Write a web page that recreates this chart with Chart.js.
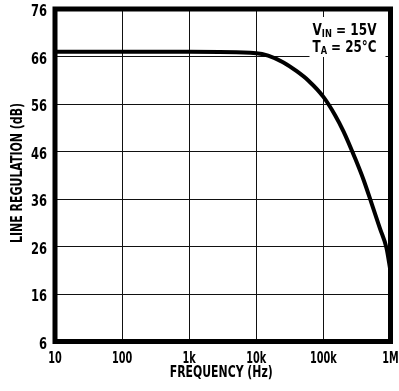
<!DOCTYPE html>
<html>
<head>
<meta charset="utf-8">
<script src="https://cdn.jsdelivr.net/npm/chart.js@4/dist/chart.umd.min.js"></script>
<style>
  html, body { margin: 0; padding: 0; background: #fff; }
  #wrap { width: 399px; height: 391px; position: relative; }
</style>
</head>
<body>
<div id="wrap"><canvas id="lineRegChart"></canvas></div>
<script>
// ---- data ----
const freqHz = [10, 100, 1000, 10000, 15000, 25000, 40000, 60000, 100000,
                150000, 200000, 300000, 400000, 530000, 700000, 870000, 1000000];
const lineRegDb = [67, 67, 67, 66.7, 66.2, 64.8, 62.9, 60.9, 57.5,
                   53.6, 50.2, 44.4, 39.9, 34.8, 29.7, 25.7, 20.8];

const xTickValues = [10, 100, 1000, 10000, 100000, 1000000];
const xTickLabels = ['10', '100', '1k', '10k', '100k', '1M'];
const yTickValues = [6, 16, 26, 36, 46, 56, 66, 76];
const xTitle = 'FREQUENCY (Hz)';
const yTitle = 'LINE REGULATION (dB)';

const FONT = "'Liberation Sans Narrow', 'DejaVu Sans Condensed', 'Arial Narrow', sans-serif";

// the original uses a condensed bold face: draw text squeezed sideways
function squeezed(ctx, text, x, y, font, k, align, rot) {
    ctx.save();
    ctx.translate(x, y);
    if (rot) ctx.rotate(rot);
    ctx.scale(k, 1);
    ctx.font = font;
    ctx.textAlign = align;
    ctx.textBaseline = 'alphabetic';
    ctx.fillText(text, 0, 0);
    ctx.restore();
}

function fitScale(ctx, text, font, width) {
    ctx.font = font;
    return width / ctx.measureText(text).width;
}

// thick frame, axis text and the condition note
const framePlugin = {
    id: 'frame',
    afterDatasetsDraw(chart) {
        const { ctx, chartArea: a, scales } = chart;
        ctx.save();
        ctx.fillStyle = '#000';

        // tick labels, placed with the chart's own scales
        xTickValues.forEach((v, i) => {
            squeezed(ctx, xTickLabels[i], scales.x.getPixelForValue(v), a.bottom + 21.5,
                     'bold 15px ' + FONT, 0.72, 'center');
        });
        yTickValues.forEach(v => {
            squeezed(ctx, String(v), a.left - 8, scales.y.getPixelForValue(v) + 7,
                     'bold 16px ' + FONT, 0.8, 'right');
        });

        // axis titles
        const tFont = 'bold 16px ' + FONT;
        squeezed(ctx, xTitle, (a.left + a.right) / 2 - 1.5, a.bottom + 35.5,
                 tFont, fitScale(ctx, xTitle, tFont, 103), 'center');
        squeezed(ctx, yTitle, 21.5, 173,
                 tFont, fitScale(ctx, yTitle, tFont, 140), 'center', -Math.PI / 2);

        // note box (white, hides grid behind text)
        ctx.fillStyle = '#fff';
        ctx.fillRect(a.right - 81, a.top + 8, 76, 40);
        ctx.fillStyle = '#000';
        const big = 'bold 16px ' + FONT;
        const small = 'bold 11px ' + FONT;
        const drawNote = (x, y, main, sub, rest, target) => {
            const parts = [[main, big, 0], [sub, small, 2], [rest, big, 0]];
            const total = parts.reduce((w, p) => {
                ctx.font = p[1];
                return w + ctx.measureText(p[0]).width;
            }, 0);
            ctx.save();
            ctx.translate(x, y);
            ctx.scale(target / total, 1);
            ctx.textAlign = 'left';
            ctx.textBaseline = 'alphabetic';
            let cx = 0;
            parts.forEach(p => {
                ctx.font = p[1];
                ctx.fillText(p[0], cx, p[2]);
                cx += ctx.measureText(p[0]).width;
            });
            ctx.restore();
        };
        drawNote(a.left + 257.5, a.top + 26, 'V', 'IN', ' = 15V', 64);
        drawNote(a.left + 257.5, a.top + 42.5, 'T', 'A', ' = 25\u00B0C', 64);

        ctx.strokeStyle = '#000';
        ctx.lineWidth = 5;
        ctx.strokeRect(a.left, a.top, a.right - a.left, a.bottom - a.top);
        ctx.restore();
    }
};

new Chart(document.getElementById('lineRegChart'), {
    type: 'line',
    data: {
        datasets: [{
            data: freqHz.map((f, i) => ({ x: f, y: lineRegDb[i] })),
            borderColor: '#000',
            borderWidth: 4,
            pointRadius: 0,
            fill: false,
            cubicInterpolationMode: 'monotone',
            clip: false
        }]
    },
    options: {
        responsive: true,
        maintainAspectRatio: false,
        animation: false,
        layout: { padding: { top: 9, right: 8.5, left: 0, bottom: 0 } },
        plugins: {
            legend: { display: false },
            tooltip: { enabled: false }
        },
        scales: {
            x: {
                type: 'logarithmic',
                min: 10,
                max: 1000000,
                afterBuildTicks: s => { s.ticks = xTickValues.map(v => ({ value: v })); },
                afterFit: s => {
                    s.height = 49.5;
                    s.paddingLeft = 0;
                    s.paddingRight = 0;
                },
                grid: { color: '#111', lineWidth: 1, drawTicks: false },
                border: { display: false },
                ticks: { display: false }
            },
            y: {
                min: 6,
                max: 76,
                afterBuildTicks: s => { s.ticks = yTickValues.map(v => ({ value: v })); },
                afterFit: s => {
                    s.width = 55;
                    s.paddingTop = 0;
                    s.paddingBottom = 0;
                },
                grid: { color: '#111', lineWidth: 1, drawTicks: false },
                border: { display: false },
                ticks: { display: false }
            }
        }
    },
    plugins: [framePlugin]
});
</script>
</body>
</html>
